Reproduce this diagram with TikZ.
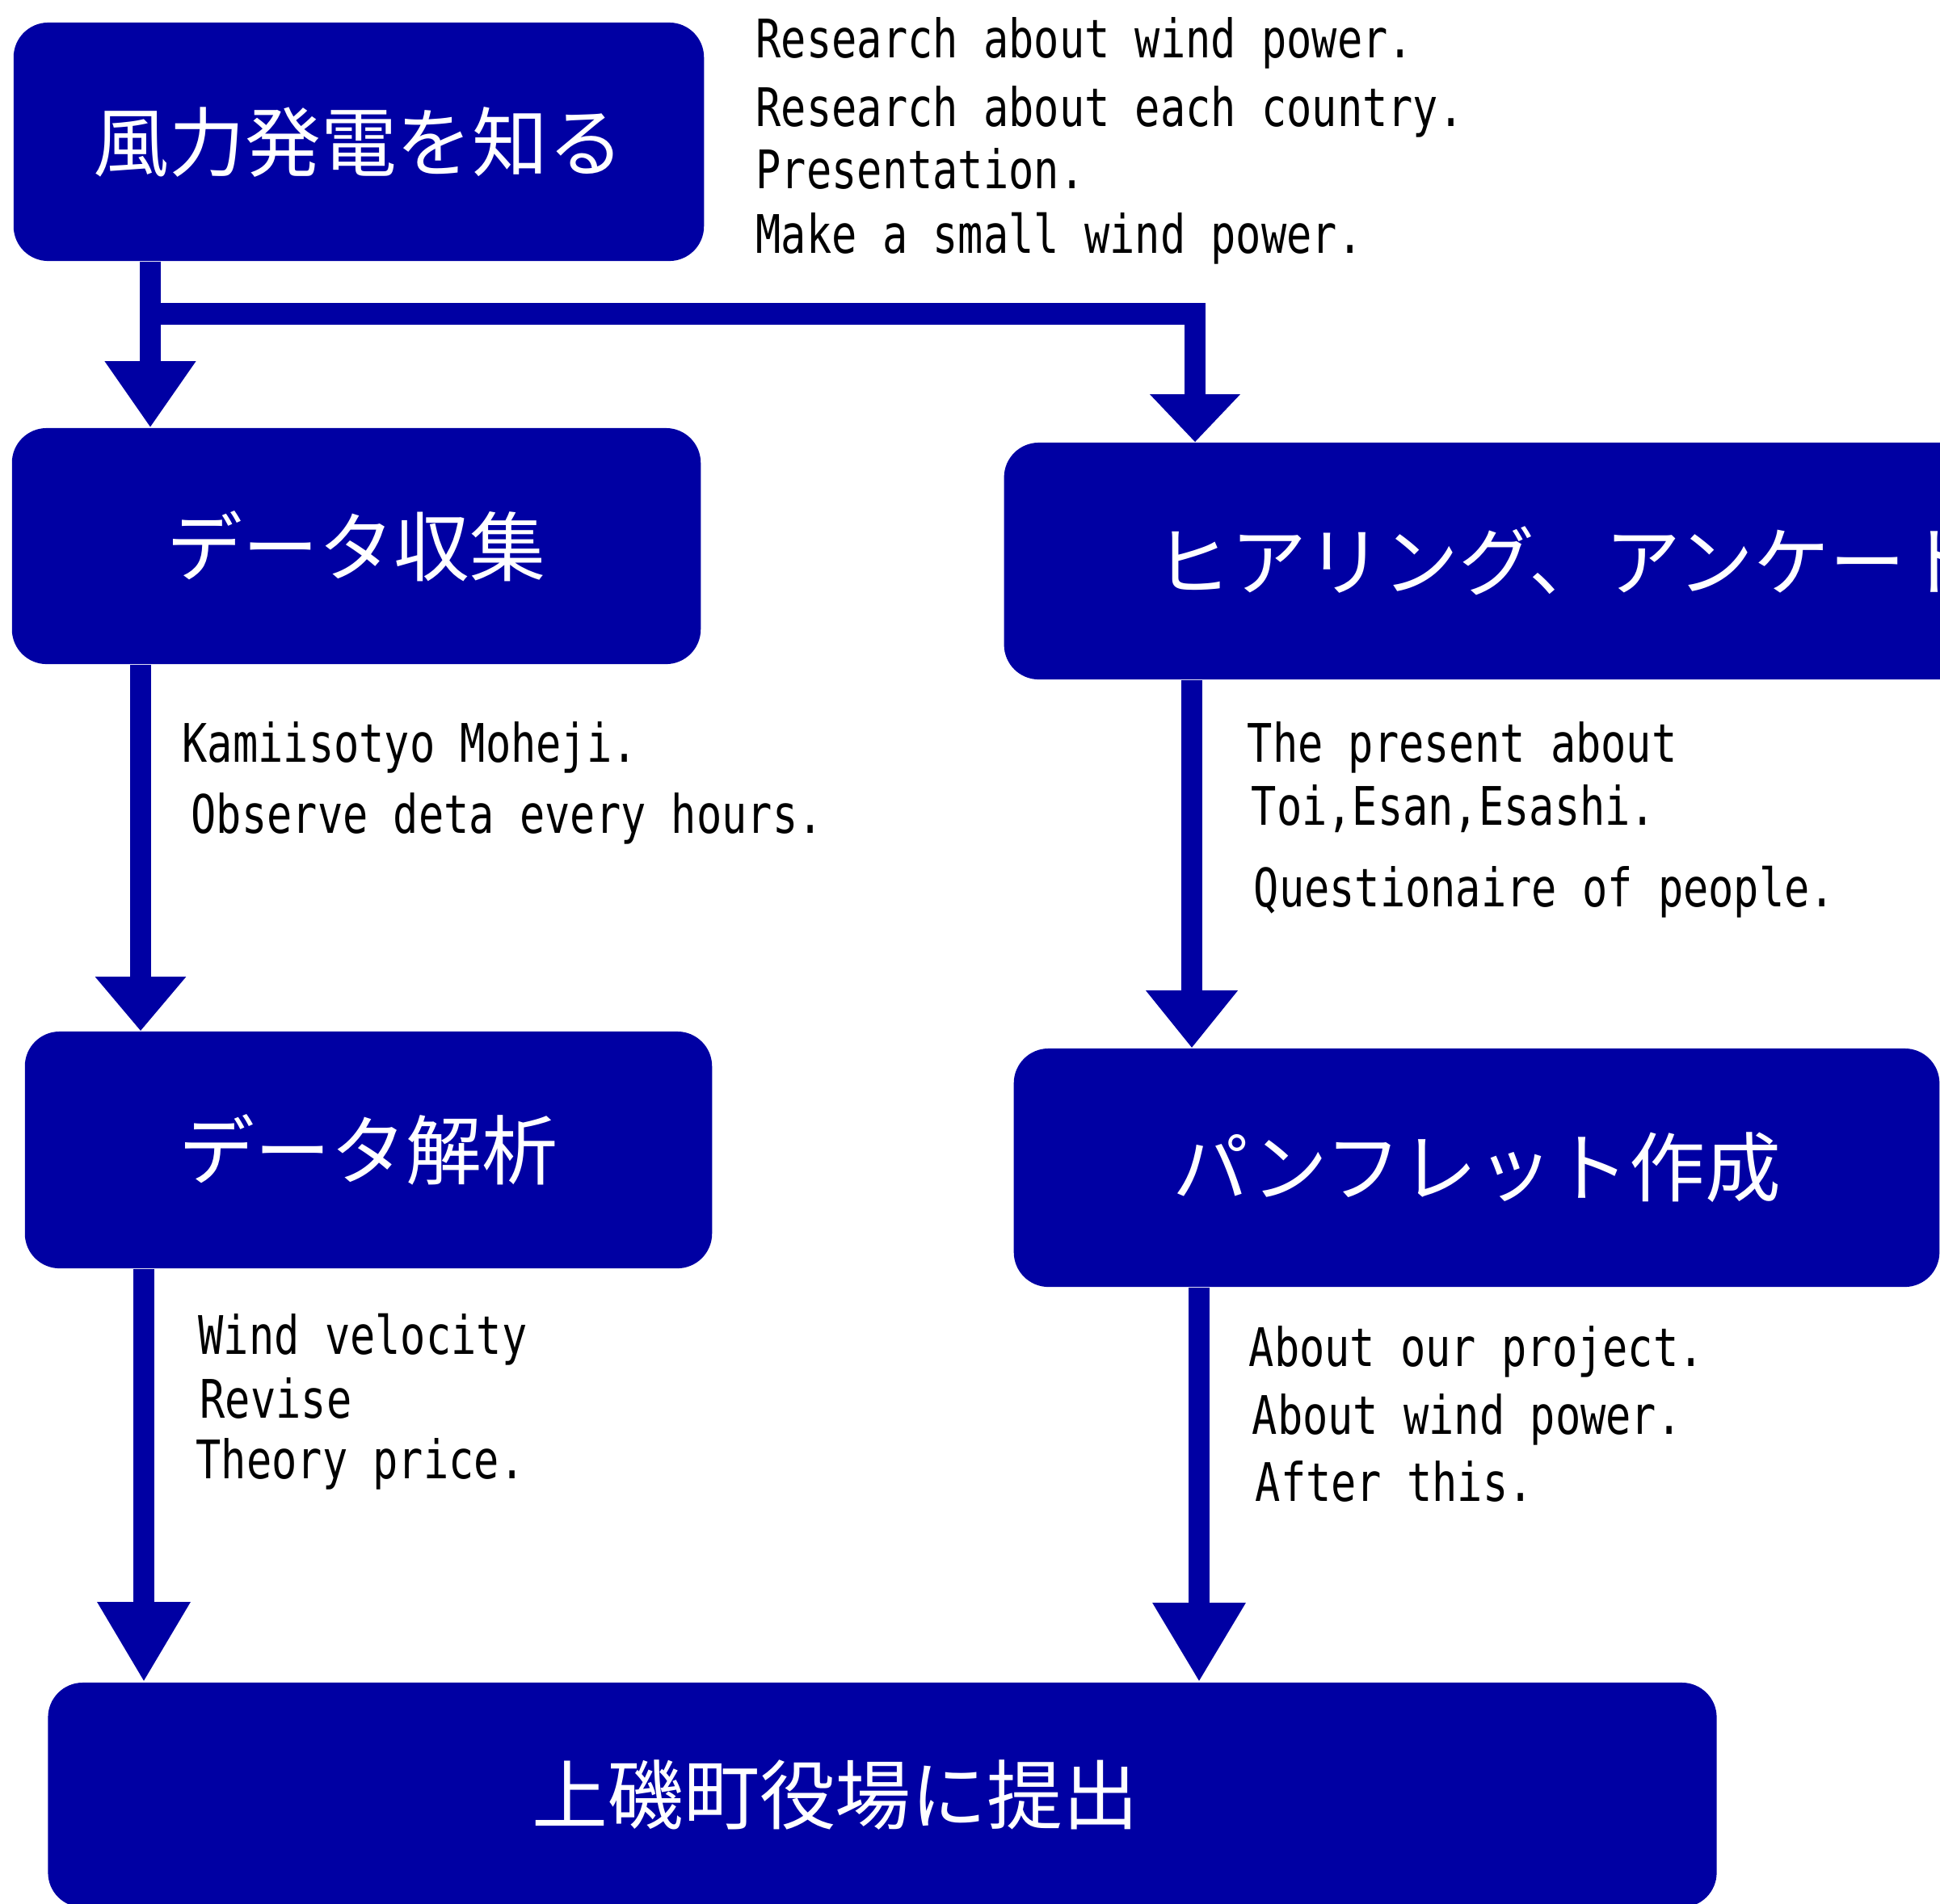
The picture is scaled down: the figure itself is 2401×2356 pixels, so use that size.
\documentclass[tikz,border=0pt]{standalone}
\usepackage{fontspec}
\usepackage{xcolor}
\usetikzlibrary{arrows.meta}

\newfontfamily\jpfont{Noto Sans CJK JP}
\newfontfamily\memofont[FakeStretch=0.79]{DejaVu Sans Mono}
\definecolor{flowblue}{RGB}{0,0,163}

\tikzset{
  stepbox/.style = {rectangle, rounded corners=0.43cm, fill=flowblue, text=white,
                    inner sep=0pt, font=\jpfont\fontsize{26.7pt}{30pt}\selectfont},
  flowline/.style = {draw=flowblue, line width=0.265cm},
  memo/.style = {anchor=base west, inner sep=0pt,
                 font=\memofont\fontsize{18.7pt}{22pt}\selectfont}
}

\begin{document}
\begin{tikzpicture}[x=0.01cm, y=-0.01cm]
\useasboundingbox (0,0) rectangle (2401,2356);
\clip (0,0) rectangle (2401,2356);

  % boxes
  \node[stepbox, minimum width=8.54cm, minimum height=2.95cm] (know)    at (444,175.5)   {風力発電を知る};
  \node[stepbox, minimum width=8.52cm, minimum height=2.92cm] (collect) at (441,676)     {データ収集};
  \node[stepbox, minimum width=13.96cm, minimum height=2.93cm] (hearing) at (1941,694.5) {ヒアリング、アンケート};
  \node[stepbox, minimum width=8.50cm, minimum height=2.93cm] (analyze) at (456,1423.5)  {データ解析};
  \node[stepbox, minimum width=11.45cm, minimum height=2.95cm] (pamph)  at (1827.5,1445.5) {パンフレット作成};
  \node[stepbox, minimum width=20.64cm, minimum height=2.78cm,
        label={[text=white, font=\jpfont\fontsize{26.7pt}{30pt}\selectfont, xshift=-0.58cm]center:上磯町役場に提出}]
        (submit) at (1092,2222) {};

  % arrows
  \coordinate (split) at (1479,388.5);
  \draw[flowline, -{Triangle[width=1.07cm,length=0.82cm]}] (know.south -| 186,0) -- (collect.north -| 186,0);
  \draw[flowline, -{Triangle[width=1.08cm,length=0.59cm]}] (know.south -| 186,0) |- (split) -- (split |- hearing.north);
  \draw[flowline, -{Triangle[width=1.08cm,length=0.67cm]}] (collect.south -| 174,0) -- (analyze.north -| 174,0);
  \draw[flowline, -{Triangle[width=1.09cm,length=0.71cm]}] (hearing.south -| 1475,0) -- (pamph.north -| 1475,0);
  \draw[flowline, -{Triangle[width=1.08cm,length=0.99cm]}] (analyze.south -| 178,0) -- (submit.north -| 178,0);
  \draw[flowline, -{Triangle[width=1.08cm,length=0.98cm]}] (pamph.south -| 1484,0) -- (submit.north -| 1484,0);

  % notes
  \node[memo] (knowa) at (935,71)  {Research about wind power.};
  \node[memo] (knowb) at (935,156) {Research about each country.};
  \node[memo] (knowc) at (935,233) {Presentation.};
  \node[memo] (knowd) at (935,313) {Make a small wind power.};

  \node[memo] (collecta) at (225,943)  {Kamiisotyo Moheji.};
  \node[memo] (collectb) at (236,1031) {Observe deta every hours.};

  \node[memo] (hearinga) at (1543,943)  {The present about};
  \node[memo] (hearingb) at (1548,1021) {Toi,Esan,Esashi.};
  \node[memo] (hearingc) at (1551,1122) {Questionaire of people.};

  \node[memo] (analyzea) at (245,1676) {Wind velocity};
  \node[memo] (analyzeb) at (247,1755) {Revise};
  \node[memo] (analyzec) at (242,1830) {Theory price.};

  \node[memo] (pampha) at (1545,1691) {About our project.};
  \node[memo] (pamphb) at (1549,1775) {About wind power.};
  \node[memo] (pamphc) at (1553,1858) {After this.};
\end{tikzpicture}
\end{document}
